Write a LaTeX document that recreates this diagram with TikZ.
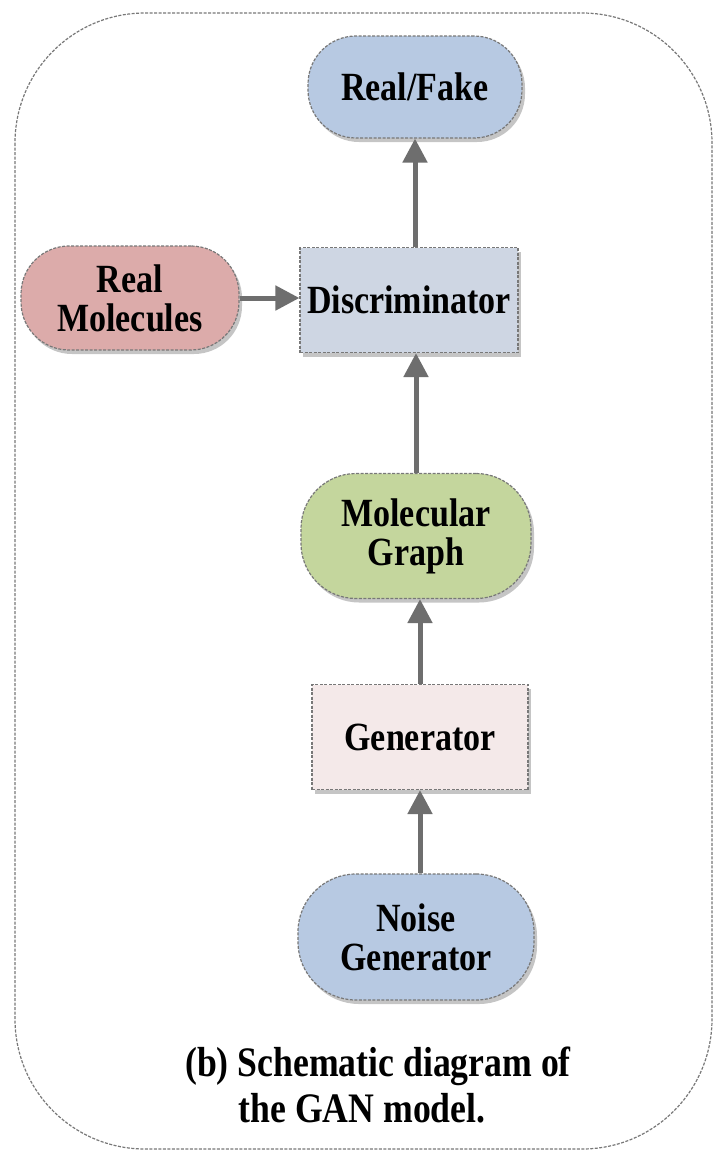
\documentclass[tikz,border=0pt]{standalone}
\usepackage{fontspec}
\setmainfont{Liberation Serif}
\newfontfamily\labfont[FakeStretch=0.85]{Liberation Serif}
\usetikzlibrary{arrows.meta,shadows}
\definecolor{bluefill}{RGB}{183,201,226}
\definecolor{discfill}{RGB}{206,214,227}
\definecolor{pinkfill}{RGB}{220,171,170}
\definecolor{greenfill}{RGB}{196,214,157}
\definecolor{genfill}{RGB}{244,233,233}
\definecolor{edgegray}{RGB}{120,120,120}
\definecolor{arrowgray}{RGB}{110,110,110}
\tikzset{
  box/.style={draw=edgegray, line width=1.2pt, dash pattern=on 3pt off 1.5pt,
    inner sep=0pt, align=center,
    font=\labfont\bfseries\fontsize{40pt}{39pt}\selectfont,
    drop shadow={opacity=0.45, shadow xshift=3pt, shadow yshift=-4pt}},
  pill/.style={box, rounded corners=48pt},
  blockbox/.style={box},
  flow/.style={draw=arrowgray, line width=5pt,
    -{Triangle[width=24pt,length=24pt]}}
}
\begin{document}
\begin{tikzpicture}[x=1pt,y=-1pt]
\useasboundingbox (0,0) rectangle (713,1152);
% outer frame
\fill[black!4, rounded corners=130pt] (15,13) rectangle (712,1149);
\filldraw[fill=white, draw=edgegray, line width=1.2pt, dash pattern=on 3pt off 1.5pt,
  rounded corners=130pt] (15,13) rectangle (712,1149);
\fill[white, rounded corners=110pt] (30,28) rectangle (700,1135);

% nodes
\node[pill, fill=bluefill, minimum width=214pt, minimum height=102pt] (rf) at (415,87) {Real/Fake};
\node[blockbox, fill=discfill, minimum width=218pt, minimum height=105pt] (disc) at (409,300) {Discriminator};
\node[pill, fill=pinkfill, minimum width=218pt, minimum height=104pt] (real) at (130,298) {Real\\Molecules};
\node[pill, fill=greenfill, minimum width=230pt, minimum height=125pt, rounded corners=55pt] (mg) at (416,536) {Molecular\\Graph};
\node[blockbox, fill=genfill, minimum width=216pt, minimum height=105pt] (gen) at (420,737) {Generator};
\node[pill, fill=bluefill, minimum width=236pt, minimum height=126pt, rounded corners=58pt] (noise) at (416,937) {Noise\\Generator};

% caption
\node[font=\labfont\bfseries\fontsize{42pt}{46pt}\selectfont, anchor=base] (cap1) at (378,1076) {(b) Schematic diagram of};
\node[font=\labfont\bfseries\fontsize{42pt}{46pt}\selectfont, anchor=base] (cap2) at (362,1122) {the GAN model.};

% connectors
\draw[flow] (noise.north -| gen.south) -- (gen.south);
\draw[flow] (gen.north) -- (gen.north |- mg.south);
\draw[flow] (mg.north) -- (mg.north |- disc.south);
\draw[flow] (disc.north -| rf.south) -- (rf.south);
\draw[flow] (real.east) -- (real.east -| disc.west);
\end{tikzpicture}
\end{document}
